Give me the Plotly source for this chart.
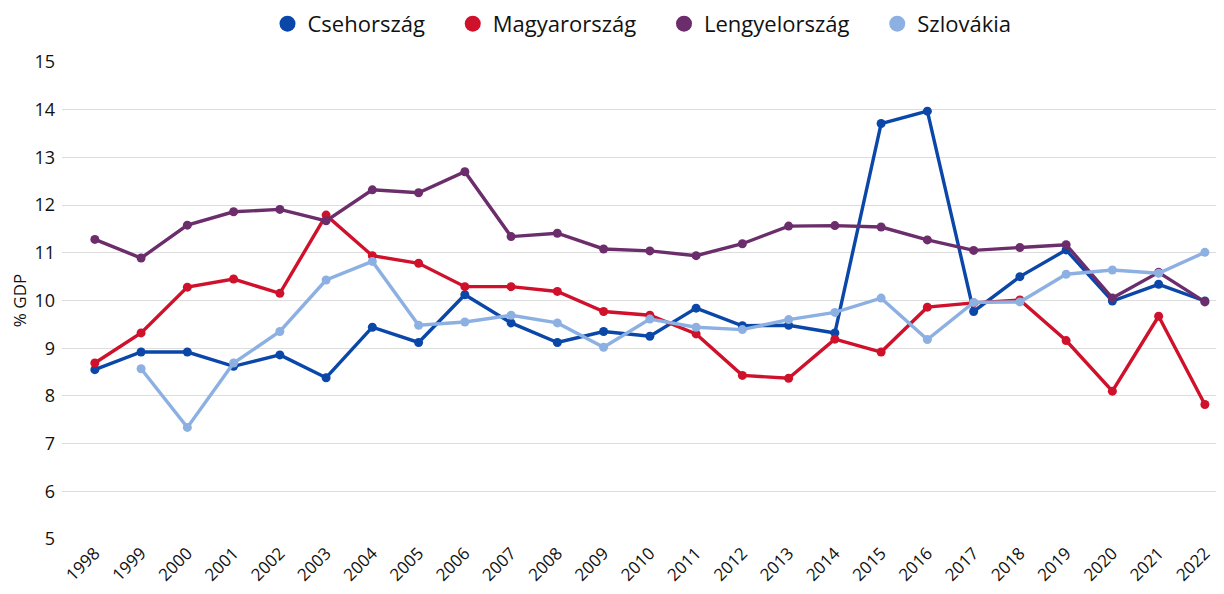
import plotly.graph_objects as go

years = [str(y) for y in range(1998, 2023)]

cseh = [8.55, 8.92, 8.92, 8.62, 8.86, 8.38, 9.44, 9.12, 10.12, 9.53, 9.12, 9.35, 9.25,
        9.84, 9.47, 9.48, 9.32, 13.71, 13.97, 9.77, 10.50, 11.06, 9.99, 10.34, 9.99]
magyar = [8.69, 9.32, 10.28, 10.45, 10.15, 11.79, 10.94, 10.78, 10.29, 10.29, 10.19, 9.77, 9.69,
          9.30, 8.43, 8.37, 9.19, 8.92, 9.86, 9.95, 10.01, 9.16, 8.10, 9.67, 7.82]
lengyel = [11.28, 10.89, 11.58, 11.86, 11.91, 11.67, 12.32, 12.26, 12.70, 11.34, 11.41, 11.08, 11.04,
           10.94, 11.19, 11.56, 11.57, 11.54, 11.27, 11.05, 11.11, 11.17, 10.05, 10.59, 9.97]
szlovak = [None, 8.57, 7.34, 8.69, 9.35, 10.43, 10.82, 9.48, 9.55, 9.69, 9.53, 9.02, 9.61,
           9.44, 9.39, 9.60, 9.75, 10.05, 9.18, 9.96, 9.97, 10.55, 10.64, 10.57, 11.01]

series = [
    ("Csehország", cseh, "#0A47A8"),
    ("Magyarország", magyar, "#D0112B"),
    ("Lengyelország", lengyel, "#6B2D6B"),
    ("Szlovákia", szlovak, "#8DB0E3"),
]

font = "Open Sans, Lato, sans-serif"
fig = go.Figure()
for name, vals, col in series:
    fig.add_trace(go.Scatter(
        x=years, y=vals, mode="lines+markers", name=name, showlegend=False,
        line=dict(color=col, width=3.4), marker=dict(color=col, size=9),
        connectgaps=False, hoverinfo="x+y+name"))
for i, (name, vals, col) in enumerate(series):
    pad = "\u00a0" * 4 if i < len(series) - 1 else ""
    fig.add_trace(go.Scatter(
        x=[None], y=[None], mode="markers", name=name + pad,
        marker=dict(color=col, size=20, symbol="circle")))

fig.update_layout(
    width=1224, height=594,
    paper_bgcolor="white", plot_bgcolor="white",
    margin=dict(l=54, r=10, t=54, b=63, autoexpand=False),
    font=dict(family=font, color="#111111"),
    legend=dict(orientation="h", x=0.5, xanchor="center", y=1.08, yanchor="middle",
                font=dict(size=22, family=font, color="#111111"),
                itemsizing="trace", itemwidth=30, tracegroupgap=0),
    xaxis=dict(type="category", range=[-0.71, 24.37], showgrid=False, zeroline=False,
               showline=False, tickangle=-45, tickfont=dict(size=17, family=font),
               ticks="", automargin=False),
    yaxis=dict(range=[5, 15], dtick=1, showgrid=True, gridcolor="#DDDDDD", gridwidth=1,
               zeroline=False, showline=False, tickfont=dict(size=18, family=font),
               ticks="", ticklabelstandoff=6, automargin=False,
               title=dict(text="% GDP", font=dict(size=17, family=font), standoff=10)),
)

fig.write_html("out.html")
